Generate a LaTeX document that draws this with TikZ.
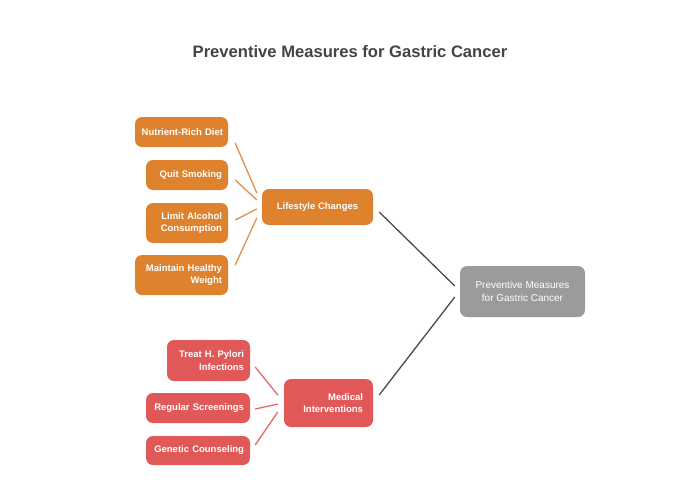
\documentclass[tikz,border=0pt]{standalone}
\usepackage{fontspec}
\setmainfont{Liberation Sans}
\usetikzlibrary{calc}
\definecolor{orbox}{HTML}{DE822E}
\definecolor{orline}{HTML}{E0914A}
\definecolor{rdbox}{HTML}{E05858}
\definecolor{rdline}{HTML}{E26A6A}
\definecolor{grbox}{HTML}{9B9B9B}
\definecolor{grline}{HTML}{4A4A4A}
\definecolor{titlec}{HTML}{444444}
\tikzset{
  x=1pt, y=-1pt,
  box/.style={rounded corners=7pt, text=white, inner sep=0pt, font=\fontsize{9.5}{12.5}\selectfont\bfseries},
  obox/.style={box, fill=orbox},
  rbox/.style={box, fill=rdbox},
  olink/.style={draw=orline, line width=1.3pt},
  rlink/.style={draw=rdline, line width=1.3pt},
  glink/.style={draw=grline, line width=1.3pt},
}
\begin{document}
\begin{tikzpicture}
\useasboundingbox (0,0) rectangle (700,500);
\fill[white] (0,0) rectangle (700,500);
\node[font=\fontsize{16.6}{19}\selectfont\bfseries, text=titlec] (title) at (350,52) {Preventive Measures for Gastric Cancer};

\node[obox, minimum width=93pt, minimum height=30pt, text width=83pt, align=right] (nut) at (181.5,132) {Nutrient-Rich Diet};
\node[obox, minimum width=82pt, minimum height=30pt, text width=70pt, align=right] (quit) at (187,175) {Quit Smoking};
\node[obox, minimum width=82pt, minimum height=40pt, text width=70pt, align=right] (lim) at (187,223) {Limit Alcohol\\Consumption};
\node[obox, minimum width=93pt, minimum height=40pt, text width=81pt, align=right] (mai) at (181.5,275) {Maintain Healthy\\Weight};
\node[obox, minimum width=111pt, minimum height=36pt, align=center] (life) at (317.5,207) {Lifestyle Changes};

\node[rbox, minimum width=83pt, minimum height=41pt, text width=71pt, align=right] (treat) at (208.5,360.5) {Treat H. Pylori\\Infections};
\node[rbox, minimum width=104pt, minimum height=30pt, text width=92pt, align=right] (reg) at (198,408) {Regular Screenings};
\node[rbox, minimum width=104pt, minimum height=29pt, text width=92pt, align=right] (gen) at (198,450.5) {Genetic Counseling};
\node[rbox, minimum width=89pt, minimum height=48pt, text width=69pt, align=right] (med) at (328.5,403) {Medical\\Interventions};

\node[box, fill=grbox, font=\fontsize{10}{12.7}\selectfont, minimum width=125pt, minimum height=51pt, align=center] (root) at (522.5,291.5) {Preventive Measures\\for Gastric Cancer};

\draw[olink] ($(nut.east)+(7,11)$) -- ($(life.west)+(-5,-14)$);
\draw[olink] ($(quit.east)+(7,5)$) -- ($(life.west)+(-5,-7)$);
\draw[olink] ($(lim.east)+(7,-3)$) -- ($(life.west)+(-5,2)$);
\draw[olink] ($(mai.east)+(7,-10)$) -- ($(life.west)+(-5,11)$);

\draw[rlink] ($(treat.east)+(5,6.5)$) -- ($(med.west)+(-6,-8)$);
\draw[rlink] ($(reg.east)+(5,1)$) -- ($(med.west)+(-6,1)$);
\draw[rlink] ($(gen.east)+(5,-5.5)$) -- ($(med.west)+(-6,9)$);

\draw[glink] ($(life.east)+(6,5)$) -- ($(root.west)+(-5,-5.5)$);
\draw[glink] ($(med.east)+(6,-8)$) -- ($(root.west)+(-5,5.5)$);
\end{tikzpicture}
\end{document}
